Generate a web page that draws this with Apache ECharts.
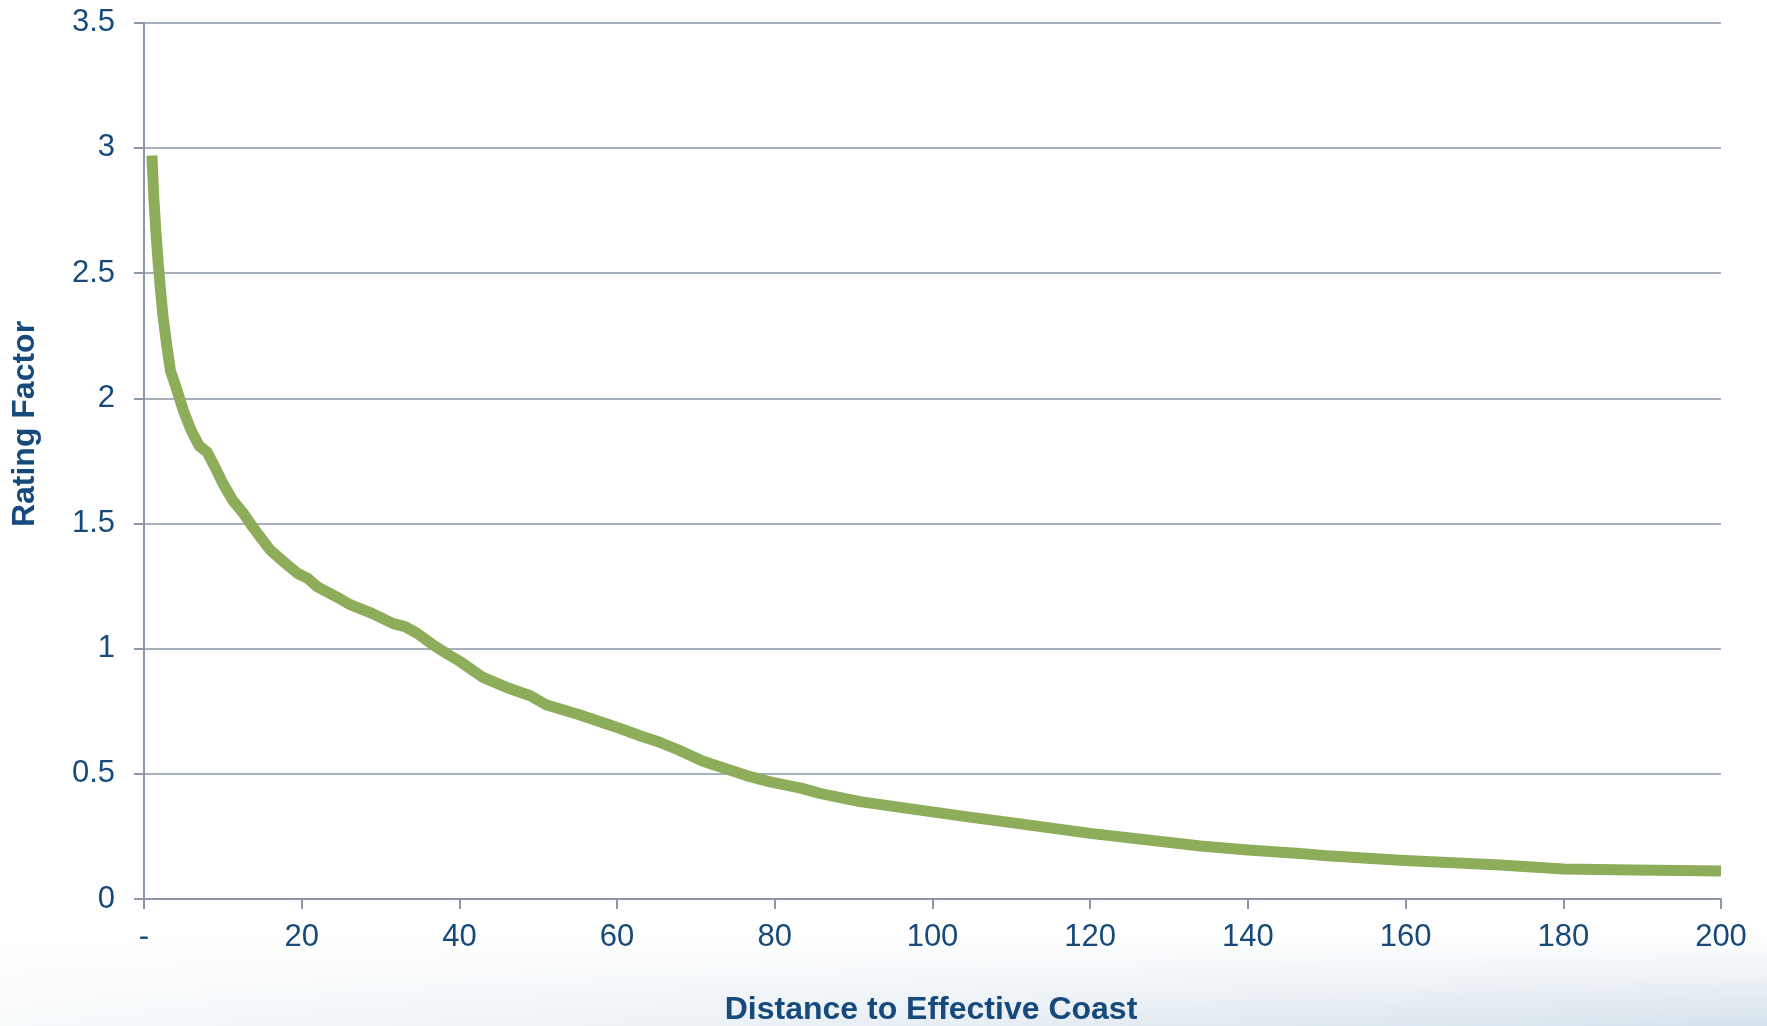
<!DOCTYPE html>
<html>
<head>
<meta charset="utf-8">
<script src="https://cdn.jsdelivr.net/npm/echarts@6/dist/echarts.min.js"></script>
<style>
html,body{margin:0;padding:0;background:#ffffff;}
#chart{width:1767px;height:1026px;}
</style>
</head>
<body>
<div id="chart"></div>
<script>
// Distance to effective coast (x) and rating factor (y)
const distance = [1, 1.25, 1.5, 1.8, 2.1, 2.4, 2.85, 3.35, 4, 5, 6, 7, 8, 9, 10, 11.3, 12.5, 13.8, 16, 17.7, 19.5, 20.8, 22, 23.2, 24.4, 26, 27.4, 29, 30.3, 31.6, 33.1, 34.6, 36.7, 38.4, 40, 43, 46, 49, 51, 55.3, 60.3, 62.9, 65.4, 67.8, 70.9, 73.6, 76.5, 79.4, 83.3, 85.7, 90.8, 98.4, 104.7, 110, 120, 134, 140, 146.6, 150, 159.3, 172, 180, 189, 200];
const ratingFactor = [2.97, 2.80, 2.67, 2.54, 2.43, 2.33, 2.22, 2.11, 2.05, 1.95, 1.87, 1.81, 1.785, 1.725, 1.66, 1.59, 1.545, 1.485, 1.394, 1.347, 1.30, 1.28, 1.247, 1.227, 1.207, 1.178, 1.16, 1.14, 1.12, 1.10, 1.088, 1.062, 1.014, 0.98, 0.95, 0.885, 0.845, 0.812, 0.776, 0.735, 0.682, 0.652, 0.626, 0.595, 0.55, 0.522, 0.492, 0.468, 0.443, 0.422, 0.389, 0.355, 0.327, 0.305, 0.262, 0.212, 0.196, 0.182, 0.173, 0.155, 0.136, 0.12, 0.116, 0.112];
const xTitle = 'Distance to Effective Coast';
const yTitle = 'Rating Factor';

const FONT = '"Liberation Sans", Arial, sans-serif';
const TEXT = '#174A7C';
const AXIS = '#8B96A9';

const chart = echarts.init(document.getElementById('chart'), null, {renderer: 'canvas'});
chart.setOption({
  animation: false,
  backgroundColor: '#ffffff',
  grid: {left: 144, right: 46, top: 22.7, bottom: 127, containLabel: false},
  graphic: [
    {type: 'rect', z: -10, silent: true, shape: {x: 0, y: 935, width: 1767, height: 91},
     style: {fill: new echarts.graphic.LinearGradient(0, 0, 0, 1, [
       {offset: 0, color: 'rgba(214,226,235,0)'},
       {offset: 1, color: 'rgba(214,226,235,1)'}])}},
    {type: 'rect', z: -9, silent: true, shape: {x: 0, y: 935, width: 1767, height: 91},
     style: {fill: new echarts.graphic.LinearGradient(0, 0, 1, 0, [
       {offset: 0, color: 'rgba(255,255,255,0.8)'},
       {offset: 0.5, color: 'rgba(255,255,255,0.45)'},
       {offset: 1, color: 'rgba(255,255,255,0)'}])}},
    {type: 'text', z: 10, x: 25, y: 424, rotation: Math.PI / 2,
     style: {text: yTitle, font: 'bold 32px ' + FONT, fill: TEXT, textAlign: 'center', textVerticalAlign: 'middle'}},
    {type: 'text', z: 10, x: 931, y: 1010.5,
     style: {text: xTitle, font: 'bold 32px ' + FONT, fill: TEXT, textAlign: 'center', textVerticalAlign: 'middle'}}
  ],
  xAxis: {
    type: 'value', min: 0, max: 200, interval: 20,
    axisLine: {show: true, onZero: false, lineStyle: {color: AXIS, width: 2}},
    axisTick: {show: true, length: 10, lineStyle: {color: AXIS, width: 2}},
    splitLine: {show: false},
    axisLabel: {margin: 23, fontSize: 31, fontFamily: FONT, color: TEXT,
      formatter: function (v) { return v === 0 ? '-' : String(v); }}
  },
  yAxis: {
    type: 'value', min: 0, max: 3.5, interval: 0.5,
    axisLine: {show: true, lineStyle: {color: AXIS, width: 2}},
    axisTick: {show: true, length: 10, lineStyle: {color: AXIS, width: 2}},
    splitLine: {show: true, lineStyle: {color: AXIS, width: 1.6}},
    axisLabel: {margin: 29, fontSize: 31, fontFamily: FONT, color: TEXT}
  },
  series: [{
    type: 'line',
    data: distance.map((d, i) => [d, ratingFactor[i]]),
    showSymbol: false,
    smooth: false,
    clip: false,
    lineStyle: {color: '#8DAD5A', width: 11, cap: 'butt', join: 'round'}
  }]
});
</script>
</body>
</html>
